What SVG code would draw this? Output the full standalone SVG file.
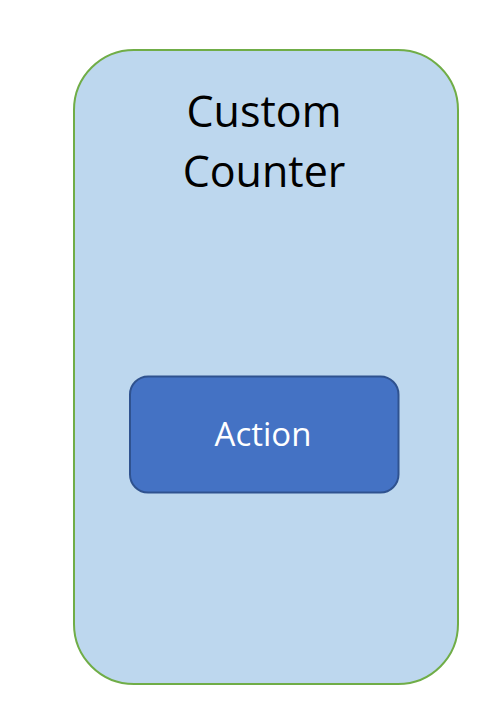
<svg xmlns="http://www.w3.org/2000/svg" width="490" height="710" viewBox="0 0 490 710">
  <style>
    .label { font-family: "Open Sans", "Liberation Sans", sans-serif; text-anchor: middle; }
  </style>
  <rect width="490" height="710" fill="#ffffff"/>
  <g id="custom-counter">
    <rect x="74" y="50" width="384" height="634" rx="60" ry="60" fill="#BDD7EE" stroke="#70AD47" stroke-width="2"/>
    <text class="label" x="264" y="127" font-size="43" fill="#000000">Custom</text>
    <text class="label" x="264" y="187" font-size="43" fill="#000000">Counter</text>
  </g>
  <g id="action">
    <rect x="130" y="376.5" width="268.5" height="116" rx="18" ry="18" fill="#4472C4" stroke="#2F528F" stroke-width="2"/>
    <text class="label" x="263" y="446" font-size="33" fill="#ffffff">Action</text>
  </g>
  <g id="connectors"/>
</svg>
